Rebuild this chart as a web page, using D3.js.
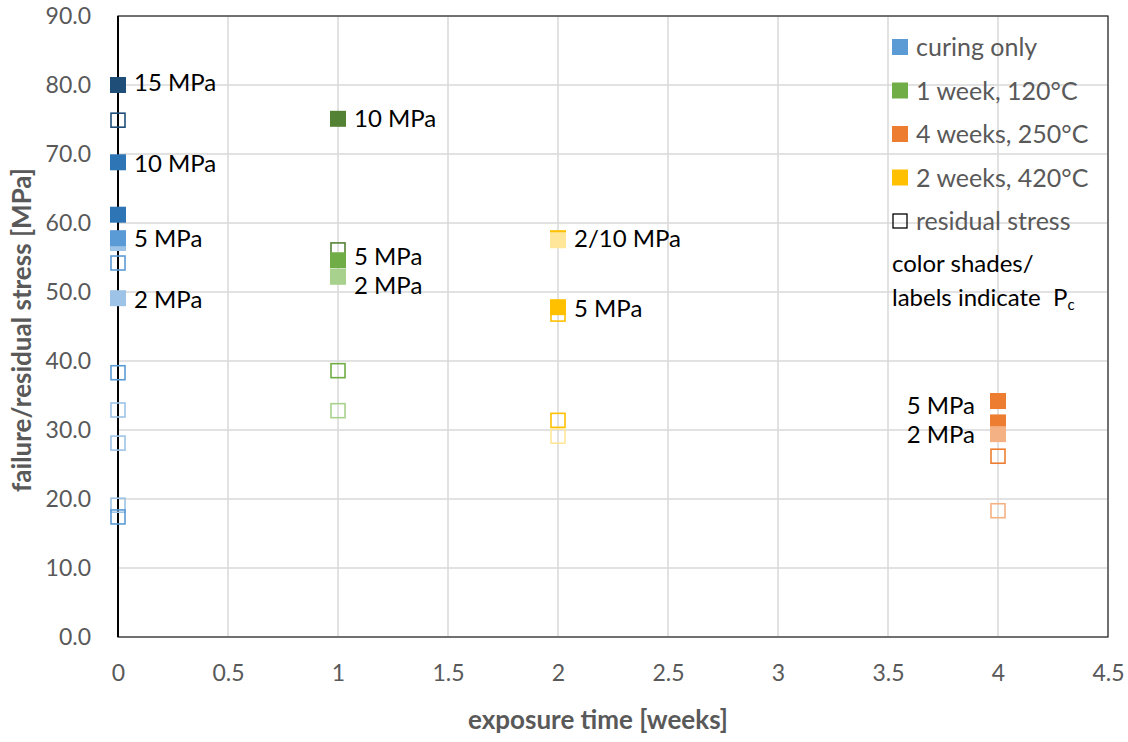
<!DOCTYPE html>
<html>
<head>
<meta charset="utf-8">
<script src="https://cdn.jsdelivr.net/npm/d3@7"></script>
<style>
  body { margin: 0; background: #fff; }
  text { font-family: Lato, "Open Sans", sans-serif; }
</style>
</head>
<body>
<div id="chart"></div>
<script>
// exposure time ticks and stress ticks
var xTicks = [0, 0.5, 1, 1.5, 2, 2.5, 3, 3.5, 4, 4.5];
var yTicks = [0, 10, 20, 30, 40, 50, 60, 70, 80, 90];

// p = confining pressure Pc [MPa], v = stress [MPa]
var curingFailure = [
    {p: 15, v: 80.0}, {p: 10, v: 68.8}, {p: 10, v: 61.2},
    {p: 2, v: 57.1}, {p: 5, v: 57.8}, {p: 2, v: 49.1}
];
var curingResidual = [
    {p: 15, v: 74.9}, {p: 5, v: 54.2}, {p: 5, v: 38.3},
    {p: 2, v: 32.9}, {p: 2, v: 28.1}, {p: 2, v: 19.1}, {p: 5, v: 17.4}
];
var week1Failure = [{p: 10, v: 75.1}, {p: 5, v: 54.6}, {p: 2, v: 52.2}];
var week1Residual = [{p: 10, v: 56.1}, {p: 5, v: 38.6}, {p: 2, v: 32.8}];
var week2Failure = [{p: 10, v: 57.8}, {p: 2, v: 57.5}, {p: 5, v: 47.8}];
var week2Residual = [{p: 5, v: 46.8}, {p: 5, v: 31.4}, {p: 2, v: 29.1}];
var week4Failure = [{p: 5, v: 34.2}, {p: 5, v: 31.1}, {p: 2, v: 29.4}];
var week4Residual = [{p: 5, v: 26.2}, {p: 2, v: 18.3}];

// point labels: t = weeks, v = stress where the label sits
var pointLabels = [
    {t: 0, v: 80.4, text: "15 MPa", side: "right"},
    {t: 0, v: 68.7, text: "10 MPa", side: "right"},
    {t: 0, v: 57.8, text: "5 MPa", side: "right"},
    {t: 0, v: 49.0, text: "2 MPa", side: "right"},
    {t: 1, v: 75.2, text: "10 MPa", side: "right"},
    {t: 1, v: 55.2, text: "5 MPa", side: "right"},
    {t: 1, v: 51.0, text: "2 MPa", side: "right"},
    {t: 2, v: 57.8, text: "2/10 MPa", side: "right"},
    {t: 2, v: 47.7, text: "5 MPa", side: "right"},
    {t: 4, v: 33.5, text: "5 MPa", side: "left"},
    {t: 4, v: 29.4, text: "2 MPa", side: "left"}
];

var legendNames = ["curing only", "1 week, 120°C", "4 weeks, 250°C", "2 weeks, 420°C"];

var svgWidth = 1128;
var svgHeight = 742;
var margin = {top: 16, right: 20, bottom: 105, left: 118};
var chartWidth = svgWidth - margin.left - margin.right;
var chartHeight = svgHeight - margin.top - margin.bottom;

var shades = {
    curing: {2: "#9dc3e6", 5: "#5b9bd5", 10: "#2e75b6", 15: "#1f4e79"},
    week1: {2: "#a9d18e", 5: "#70ad47", 10: "#548235"},
    week2: {2: "#ffe699", 5: "#ffc000", 10: "#ffc000"},
    week4: {2: "#f4b183", 5: "#ed7d31"}
};
var legendColors = ["#5b9bd5", "#70ad47", "#ed7d31", "#ffc000"];

var svg = d3.select("#chart")
    .append("svg")
    .attr("width", svgWidth)
    .attr("height", svgHeight);

var chartGroup = svg.append("g")
    .attr("transform", `translate(${margin.left}, ${margin.top})`);

var xScale = d3.scaleLinear().domain([0, 4.5]).range([0, chartWidth]);
var yScale = d3.scaleLinear().domain([0, 90]).range([chartHeight, 0]);

// gridlines
chartGroup.selectAll("line.vgrid")
    .data(xTicks)
    .enter()
    .append("line")
    .attr("x1", d => xScale(d)).attr("x2", d => xScale(d))
    .attr("y1", 0).attr("y2", chartHeight)
    .attr("stroke", "#d9d9d9").attr("stroke-width", 1.5);

chartGroup.selectAll("line.hgrid")
    .data(yTicks)
    .enter()
    .append("line")
    .attr("x1", 0).attr("x2", chartWidth)
    .attr("y1", d => yScale(d)).attr("y2", d => yScale(d))
    .attr("stroke", "#d9d9d9").attr("stroke-width", 1.5);

chartGroup.append("rect")
    .attr("width", chartWidth)
    .attr("height", chartHeight)
    .attr("fill", "none")
    .attr("stroke", "#262626")
    .attr("stroke-width", 1.2);

chartGroup.append("line")
    .attr("x1", 0).attr("x2", 0).attr("y1", 0).attr("y2", chartHeight)
    .attr("stroke", "#000").attr("stroke-width", 2);

// axes (labels only, no tick marks)
var bottomAxis = d3.axisBottom(xScale).tickValues(xTicks).tickSize(0).tickPadding(28)
    .tickFormat(d3.format("~g"));
var leftAxis = d3.axisLeft(yScale).tickValues(yTicks).tickSize(0).tickPadding(27)
    .tickFormat(d3.format(".1f"));

var xAxisG = chartGroup.append("g")
    .attr("transform", `translate(0, ${chartHeight})`)
    .call(bottomAxis);
var yAxisG = chartGroup.append("g").call(leftAxis);

[xAxisG, yAxisG].forEach(function(g) {
    g.select(".domain").remove();
    g.selectAll("text")
        .attr("fill", "#595959")
        .style("font-size", "23px")
        .style("font-family", "Lato, sans-serif");
});

// markers
function drawOpen(data, t, shade) {
    chartGroup.selectAll(null)
        .data(data)
        .enter()
        .append("rect")
        .attr("x", d => xScale(t) - 7)
        .attr("y", d => yScale(d.v) - 7)
        .attr("width", 14).attr("height", 14)
        .attr("fill", "none")
        .attr("stroke", d => shade[d.p])
        .attr("stroke-width", 1.6);
}
function drawFilled(data, t, shade) {
    chartGroup.selectAll(null)
        .data(data)
        .enter()
        .append("rect")
        .attr("x", d => xScale(t) - 8)
        .attr("y", d => yScale(d.v) - 8)
        .attr("width", 16).attr("height", 16)
        .attr("fill", d => shade[d.p]);
}

drawOpen(curingResidual, 0, shades.curing);
drawFilled(curingFailure, 0, shades.curing);
drawOpen(week1Residual, 1, shades.week1);
drawFilled(week1Failure, 1, shades.week1);
drawOpen(week2Residual, 2, shades.week2);
drawFilled(week2Failure, 2, shades.week2);
drawOpen(week4Residual, 4, shades.week4);
drawFilled(week4Failure, 4, shades.week4);

chartGroup.selectAll("text.pt-label")
    .data(pointLabels)
    .enter()
    .append("text")
    .classed("pt-label", true)
    .attr("x", d => xScale(d.t) + (d.side === "right" ? 16 : -23))
    .attr("y", d => yScale(d.v))
    .attr("dy", "0.36em")
    .attr("text-anchor", d => d.side === "right" ? "start" : "end")
    .attr("fill", "#000")
    .style("font-size", "24px")
    .text(d => d.text);

// legend
var legend = svg.append("g").attr("transform", "translate(892, 47)");
var rowGap = 43.5;

legend.selectAll("rect.leg")
    .data(legendNames)
    .enter()
    .append("rect")
    .attr("x", 0)
    .attr("y", (d, i) => i * rowGap - 8)
    .attr("width", 16).attr("height", 16)
    .attr("fill", (d, i) => legendColors[i]);

legend.append("rect")
    .attr("x", 1).attr("y", 4 * rowGap - 7)
    .attr("width", 14).attr("height", 14)
    .attr("fill", "none").attr("stroke", "#000").attr("stroke-width", 1.3);

legend.selectAll("text.leg")
    .data(legendNames.concat(["residual stress"]))
    .enter()
    .append("text")
    .attr("x", 24)
    .attr("y", (d, i) => i * rowGap)
    .attr("dy", "0.36em")
    .attr("fill", "#595959")
    .style("font-size", "25px")
    .text(d => d);

legend.append("text")
    .attr("x", 0).attr("y", 216)
    .attr("dy", "0.36em")
    .attr("fill", "#000")
    .style("font-size", "24px")
    .text("color shades/");

var pcText = legend.append("text")
    .attr("x", 0).attr("y", 250)
    .attr("dy", "0.36em")
    .attr("fill", "#000")
    .style("font-size", "24px")
    .attr("xml:space", "preserve")
    .text("labels indicate  P");
pcText.append("tspan")
    .attr("dy", "0.3em")
    .style("font-size", "15px")
    .text("c");

// axis titles
svg.append("text")
    .attr("x", margin.left + chartWidth / 2 - 15)
    .attr("y", 729)
    .attr("text-anchor", "middle")
    .attr("fill", "#595959")
    .style("font-size", "26px")
    .style("font-weight", "bold")
    .text("exposure time [weeks]");

svg.append("text")
    .attr("transform", "rotate(-90)")
    .attr("x", -330)
    .attr("y", 22)
    .attr("dy", "0.36em")
    .attr("text-anchor", "middle")
    .attr("fill", "#595959")
    .style("font-size", "26px")
    .style("font-weight", "bold")
    .text("failure/residual stress [MPa]");
</script>
</body>
</html>
